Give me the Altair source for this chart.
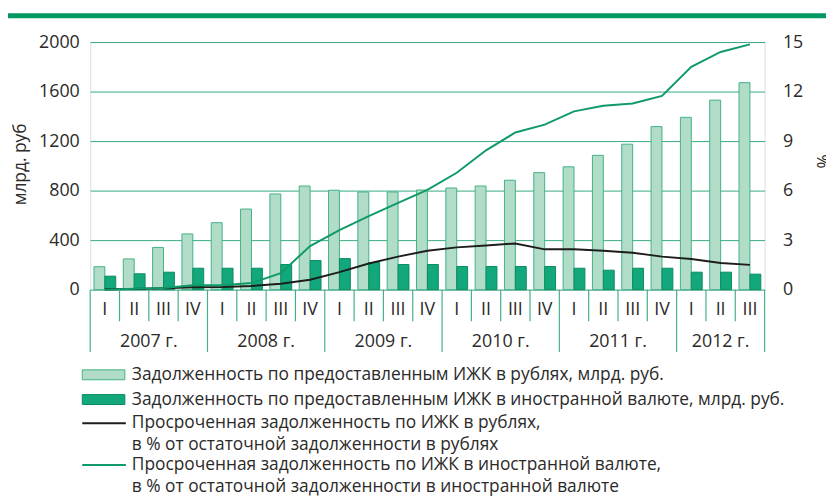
import altair as alt
import pandas as pd

# ---------------- data ----------------
years = ["2007", "2008", "2009", "2010", "2011", "2012"]
year_labels = ["2007 г.", "2008 г.", "2009 г.", "2010 г.", "2011 г.", "2012 г."]
quarter_names = ["I", "II", "III", "IV"]
quarters_in_year = [4, 4, 4, 4, 4, 3]

debt_rub = [185, 248, 341, 450, 541, 651, 773, 837, 803, 789, 789, 805,
            821, 837, 884, 945, 992, 1085, 1175, 1317, 1392, 1531, 1672]
debt_fx = [109, 128, 141, 173, 173, 173, 203, 235, 251, 219, 203, 203,
           187, 187, 187, 187, 173, 157, 173, 173, 141, 141, 125]
overdue_rub = [0.02, 0.04, 0.08, 0.14, 0.16, 0.22, 0.36, 0.60, 1.06, 1.58, 2.00, 2.36,
               2.56, 2.68, 2.80, 2.44, 2.44, 2.36, 2.24, 2.00, 1.86, 1.62, 1.50]
overdue_fx = [0.00, 0.05, 0.10, 0.26, 0.27, 0.40, 1.00, 2.64, 3.60, 4.45, 5.26, 6.04,
              7.08, 8.44, 9.52, 10.00, 10.80, 11.14, 11.28, 11.74, 13.50, 14.40, 14.86]

bar_series = ["Задолженность по предоставленным ИЖК в рублях, млрд. руб.",
              "Задолженность по предоставленным ИЖК в иностранной валюте, млрд. руб."]
line_series = [["Просроченная задолженность по ИЖК в рублях,",
                "в % от остаточной задолженности в рублях"],
               ["Просроченная задолженность по ИЖК в иностранной валюте,",
                "в % от остаточной задолженности в иностранной валюте"]]
left_title = "млрд. руб"
right_title = "%"
left_ticks = [0, 400, 800, 1200, 1600, 2000]
right_ticks = [0, 3, 6, 9, 12, 15]

# ---------------- styles ----------------
FONT = "Open Sans"
FS = 17.5
AFS = 18
TEXT = "#2b2a29"
LIGHT, LIGHT_EDGE = "#b1dcc8", "#42b287"
DARK, DARK_EDGE = "#12a87c", "#0b8c62"
GRID = "#38aa7f"
SEP = "#45b088"
BLACK = "#1d1d1b"
GREENL = "#0f9a68"
TOPBAR = "#00995f"
W, H = 681, 250

# ---------------- tables ----------------
quarter_keys, year_start = [], []
for y, n in zip(years, quarters_in_year):
    for i in range(n):
        quarter_keys.append(f"{y}|{quarter_names[i]}")
        year_start.append(i == 0)

bars_df = pd.DataFrame({
    "quarter": quarter_keys * 2,
    "series": [bar_series[0]] * len(quarter_keys) + [bar_series[1]] * len(quarter_keys),
    "value": debt_rub + debt_fx,
})
line_keys = ["rub", "fx"]
lines_df = pd.DataFrame({
    "quarter": quarter_keys * 2,
    "series": [line_keys[0]] * len(quarter_keys) + [line_keys[1]] * len(quarter_keys),
    "value": overdue_rub + overdue_fx,
})
sep_df = pd.DataFrame({"quarter": quarter_keys, "ys": year_start})

full_year_rows, odd_year_rows = [], []
for y, lab, n in zip(years, year_labels, quarters_in_year):
    anchor = f"{y}|{quarter_names[n // 2]}"
    (full_year_rows if n % 2 == 0 else odd_year_rows).append({"quarter": anchor, "label": lab})

# ---------------- encodings ----------------
x_scale = alt.Scale(domain=quarter_keys, paddingInner=0, paddingOuter=0)
x_axis = alt.Axis(title=None, labelExpr="split(datum.label, '|')[1]", ticks=False, tickSize=0,
                  domain=False, grid=False, labelAngle=0, labelPadding=20, labelBaseline="middle",
                  labelFontSize=AFS, labelColor=TEXT, labelFont=FONT, labelOverlap=False)


def X(**kw):
    return alt.X("quarter:N", scale=x_scale, axis=x_axis, **kw)


left_axis = alt.Axis(orient="left", values=left_ticks, format="d", title=left_title, titleAngle=270,
                     titleX=-70, titleY=123, titleAlign="center", titleBaseline="middle",
                     titleFontWeight="normal", titleFontSize=FS, titleColor=TEXT, titleFont=FONT,
                     labelFontSize=AFS, labelColor=TEXT, labelFont=FONT, labelPadding=11,
                     ticks=False, domain=False, grid=True, gridColor=GRID, gridWidth=1)
right_axis = alt.Axis(orient="right", values=right_ticks, format="d", title=right_title, titleAngle=270,
                      titleX=61, titleY=120, titleAlign="center", titleBaseline="middle",
                      titleFontWeight="normal", titleFontSize=FS, titleColor=TEXT, titleFont=FONT,
                      labelFontSize=AFS, labelColor=TEXT, labelFont=FONT, labelPadding=18,
                      ticks=False, domain=False, grid=False)

bars = alt.Chart(bars_df).mark_bar(strokeWidth=1).encode(
    x=X(),
    xOffset=alt.XOffset("series:N", sort=bar_series,
                        scale=alt.Scale(domain=bar_series, paddingOuter=0.345, paddingInner=0)),
    y=alt.Y("value:Q", scale=alt.Scale(domain=[0, 2000]), axis=left_axis),
    fill=alt.Fill("series:N", scale=alt.Scale(domain=bar_series, range=[LIGHT, DARK]), legend=None),
    stroke=alt.Stroke("series:N", scale=alt.Scale(domain=bar_series, range=[LIGHT_EDGE, DARK_EDGE]),
                      legend=None),
)

lines = alt.Chart(lines_df).mark_line(strokeWidth=2).encode(
    x=X(),
    y=alt.Y("value:Q", scale=alt.Scale(domain=[0, 15]), axis=right_axis),
    color=alt.Color("series:N", scale=alt.Scale(domain=line_keys, range=[BLACK, GREENL]), legend=None),
)

qsep = alt.Chart(sep_df).transform_filter("!datum.ys").mark_rule(color=SEP, strokeWidth=1.2).encode(
    x=X(bandPosition=0), y=alt.value(H), y2=alt.value(H + 32))
ysep = alt.Chart(sep_df).transform_filter("datum.ys").mark_rule(color=SEP, strokeWidth=1.2).encode(
    x=X(bandPosition=0), y=alt.value(H), y2=alt.value(H + 63))
endsep = alt.Chart(pd.DataFrame({"quarter": [quarter_keys[-1]]})).mark_rule(color=SEP, strokeWidth=1.2).encode(
    x=X(bandPosition=1), y=alt.value(H), y2=alt.value(H + 63))

ytext_full = alt.Chart(pd.DataFrame(full_year_rows)).mark_text(
    fontSize=AFS, font=FONT, color=TEXT, baseline="middle", align="center").encode(
    x=X(bandPosition=0), y=alt.value(H + 53), text="label:N")
ytext_odd = alt.Chart(pd.DataFrame(odd_year_rows)).mark_text(
    fontSize=AFS, font=FONT, color=TEXT, baseline="middle", align="center").encode(
    x=X(bandPosition=0.5), y=alt.value(H + 53), text="label:N")

one = pd.DataFrame({"k": [0]})
topbar = alt.Chart(one).mark_rect(color=TOPBAR).encode(
    x=alt.value(-83), x2=alt.value(W + 64), y=alt.value(-29), y2=alt.value(-24))

# legend (drawn manually, below the axis)
SX0, SX1, TX = -8, 35, 42
legend_layers = []
bar_rows = [336, 361]
for lab, fillc, edge, yy in zip(bar_series, [LIGHT, DARK], [LIGHT_EDGE, DARK_EDGE], bar_rows):
    d = pd.DataFrame({"label": [lab]})
    legend_layers.append(alt.Chart(d).mark_rect(fill=fillc, stroke=edge, strokeWidth=1).encode(
        x=alt.value(SX0), x2=alt.value(SX1), y=alt.value(yy - 5), y2=alt.value(yy + 5)))
    legend_layers.append(alt.Chart(d).mark_text(fontSize=FS, font=FONT, color=TEXT, align="left",
                                                baseline="middle").encode(
        x=alt.value(TX), y=alt.value(yy), text="label:N"))
line_rows = [385, 427]
LH = 22
for labs, col, yy in zip(line_series, [BLACK, GREENL], line_rows):
    d = pd.DataFrame({"label": labs})
    legend_layers.append(alt.Chart(d.head(1)).mark_rule(color=col, strokeWidth=2).encode(
        x=alt.value(SX0), x2=alt.value(SX1 + 1), y=alt.value(yy)))
    for r, lab in enumerate(labs):
        legend_layers.append(alt.Chart(pd.DataFrame({"label": [lab]})).mark_text(
            fontSize=FS, font=FONT, color=TEXT, align="left", baseline="middle").encode(
            x=alt.value(TX), y=alt.value(yy + r * LH), text="label:N"))

chart = alt.layer(
    bars, lines, topbar, qsep, ysep, endsep, ytext_full, ytext_odd, *legend_layers
).resolve_scale(y="independent").properties(
    width=W, height=H,
    autosize=alt.AutoSizeParams(type="none"),
    padding={"left": 83, "top": 32, "right": 62, "bottom": 207},
).configure_view(stroke=None).configure(font=FONT)

chart.save("out.html", embed_options={"renderer": "svg", "actions": False})
